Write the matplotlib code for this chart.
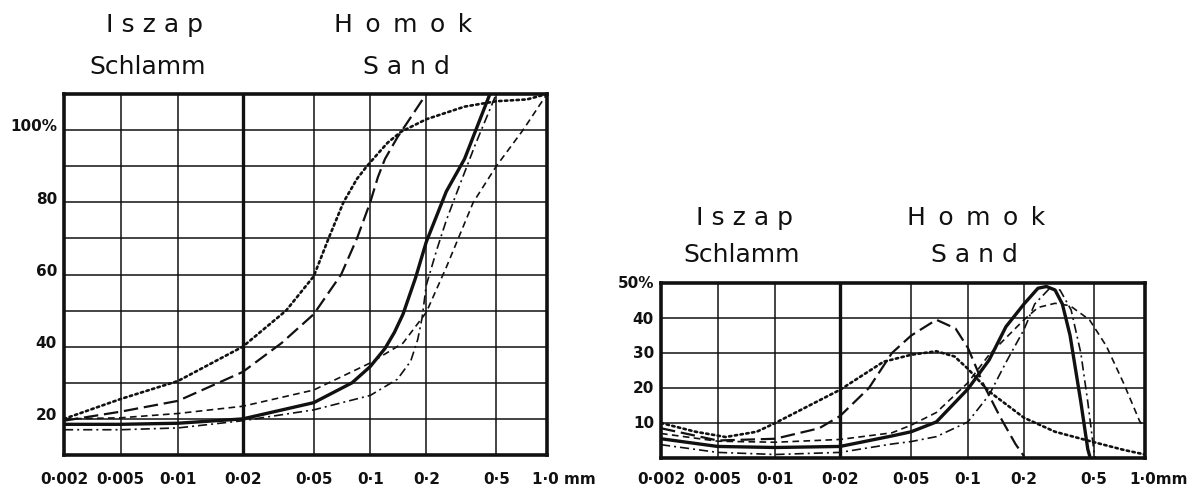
"""Grain size curves (Iszap / Homok): cumulative and frequency panels."""

import matplotlib
matplotlib.use("Agg")
import matplotlib.pyplot as plt
import numpy as np

# grain size classes in mm, as printed under both panels
size_ticks = [0.002, 0.005, 0.01, 0.02, 0.05, 0.1, 0.2, 0.5, 1.0]
size_labels = ["0·002", "0·005", "0·01", "0·02", "0·05", "0·1", "0·2", "0·5", "1·0"]

# cumulative panel (left), percent
cum_ticks = [20, 40, 60, 80, 100]
cum_labels = ["20", "40", "60", "80", "100%"]

cum_dot_x = [0.002, 0.005, 0.01, 0.02, 0.035, 0.05, 0.06, 0.072, 0.085, 0.096, 0.11, 0.124, 0.146, 0.2, 0.33, 0.5, 0.76, 1.0]
cum_dot_y = [20, 25.5, 30.5, 40, 50, 59.5, 70, 80, 86.5, 90, 93.5, 96.5, 99.5, 103, 106.5, 108, 108.5, 110]

cum_long_x = [0.002, 0.005, 0.01, 0.02, 0.033, 0.05, 0.07, 0.085, 0.1, 0.11, 0.12, 0.14, 0.165, 0.2]
cum_long_y = [19.5, 22, 25, 33, 41, 49, 60, 70, 80, 87, 92, 98, 103.5, 110]

cum_solid_x = [0.002, 0.005, 0.01, 0.02, 0.05, 0.08, 0.1, 0.12, 0.135, 0.15, 0.175, 0.2, 0.26, 0.33, 0.46]
cum_solid_y = [18.5, 18.5, 18.8, 20, 24.5, 30, 34.5, 39.5, 44, 49, 59, 69, 83, 92, 110]

cum_short_x = [0.002, 0.005, 0.01, 0.02, 0.05, 0.1, 0.15, 0.2, 0.26, 0.37, 0.5, 0.72, 1.0]
cum_short_y = [20, 20.3, 21.5, 23.5, 28, 35.5, 41, 49.5, 62, 80, 90, 100, 110]

cum_dashdot_x = [0.002, 0.005, 0.01, 0.02, 0.05, 0.1, 0.14, 0.165, 0.18, 0.19, 0.2, 0.23, 0.26, 0.3, 0.38, 0.5]
cum_dashdot_y = [17, 17, 17.5, 19.5, 22.5, 26.5, 31, 36, 42, 48, 57, 67, 75, 83, 96, 110]

# frequency panel (right), percent
freq_ticks = [10, 20, 30, 40, 50]
freq_labels = ["10", "20", "30", "40", "50%"]

freq_dot_x = [0.002, 0.0035, 0.0055, 0.008, 0.01, 0.02, 0.035, 0.05, 0.068, 0.085, 0.1, 0.13, 0.2, 0.3, 0.5, 0.75, 1.0]
freq_dot_y = [10, 7.5, 6, 7.5, 10, 19.5, 27.5, 29.5, 30.5, 29, 25.5, 19, 11.5, 7.5, 4.5, 2.3, 1]

freq_long_x = [0.002, 0.005, 0.01, 0.016, 0.02, 0.029, 0.039, 0.05, 0.068, 0.086, 0.1, 0.12, 0.148, 0.18, 0.2]
freq_long_y = [8.5, 5, 5.5, 8.5, 12, 20, 30, 35, 39.5, 37, 31.5, 21.5, 12, 4, 0.5]

freq_solid_x = [0.002, 0.005, 0.01, 0.02, 0.039, 0.05, 0.068, 0.1, 0.13, 0.16, 0.2, 0.24, 0.268, 0.3, 0.33, 0.365, 0.42, 0.46, 0.475]
freq_solid_y = [5.5, 3.3, 3, 3.3, 6.3, 7.5, 10.3, 19.7, 28, 37.5, 44, 48.5, 49, 48, 44, 35, 16, 2.5, 0]

freq_short_x = [0.002, 0.005, 0.01, 0.02, 0.039, 0.05, 0.068, 0.1, 0.13, 0.2, 0.24, 0.3, 0.365, 0.47, 0.59, 0.745, 0.93, 1.0]
freq_short_y = [7, 4.8, 4.5, 5.3, 7.2, 9.4, 13, 21.5, 29.5, 39.5, 43, 44.2, 43.5, 39.5, 32, 21.5, 10.5, 8.5]

freq_dashdot_x = [0.002, 0.005, 0.01, 0.02, 0.039, 0.05, 0.068, 0.1, 0.13, 0.16, 0.2, 0.23, 0.28, 0.32, 0.37, 0.42, 0.46, 0.5, 0.51]
freq_dashdot_y = [3.8, 1.6, 1, 1.6, 4, 4.7, 6.1, 10.3, 18, 27.3, 36.7, 44, 48.5, 48, 42.3, 30, 16, 1.5, 0]

# the printed size axis is only roughly logarithmic: gridline positions as
# fractions of the frame width, measured off the print
_LX = np.log10(size_ticks)
_FR = np.array([0.0, 0.117, 0.236, 0.37, 0.517, 0.634, 0.75, 0.895, 1.0])
_LX = np.concatenate([[_LX[0] - 1], _LX, [_LX[-1] + 1]])
_FR = np.concatenate([[_FR[0] - 0.3], _FR, [_FR[-1] + 0.35]])


def _fwd(x):
    return np.interp(np.log10(np.clip(x, 1e-9, None)), _LX, _FR)


def _inv(f):
    return 10 ** np.interp(f, _FR, _LX)


W, H = 1190, 489
ink = "#111111"
plt.rcParams["font.family"] = ["DejaVu Sans"]

fig = plt.figure(figsize=(W / 100, H / 100), dpi=100)
fig.patch.set_facecolor("white")


def px(x, y):
    return x / W, 1 - y / H


styles = {
    "dot": dict(ls=(0, (0.9, 1.3)), lw=1.9, dash_capstyle="round"),
    "long": dict(ls=(0, (6.5, 2.6)), lw=1.6),
    "solid": dict(ls="-", lw=2.4),
    "short": dict(ls=(0, (4, 2.6)), lw=1.2),
    "dashdot": dict(ls=(0, (5.5, 2.4, 1.2, 2.4)), lw=1.2),
}


def setup(ax, ylim, ystep, yticks, ylabels, ylab_dy, xlab_dy, mm_sep):
    ax.set_xscale("function", functions=(_fwd, _inv))
    ax.set_xlim(size_ticks[0], size_ticks[-1])
    ax.set_ylim(*ylim)
    ax.set_xticks(size_ticks)
    ax.set_yticks(np.arange(ylim[0], ylim[1] + 0.1, ystep))
    ax.set_xticklabels([])
    ax.set_yticklabels([])
    ax.tick_params(length=0)
    ax.grid(True, color=ink, lw=1.1)
    ax.axvline(0.02, color=ink, lw=2.4)
    for s in ax.spines.values():
        s.set_linewidth(2.6)
        s.set_color(ink)
    for v, lab in zip(yticks, ylabels):
        ax.annotate(lab, xy=(0, v), xycoords=ax.get_yaxis_transform(),
                    xytext=(-5, ylab_dy), textcoords="offset points",
                    ha="right", va="center", fontsize=11, fontweight="bold", color=ink)
    for v, lab in zip(size_ticks[:-1], size_labels[:-1]):
        ax.annotate(lab, xy=(v, 0), xycoords=ax.get_xaxis_transform(),
                    xytext=(0, xlab_dy), textcoords="offset points",
                    ha="center", va="center", fontsize=11, fontweight="bold", color=ink)
    ax.annotate(size_labels[-1] + mm_sep + "mm", xy=(size_ticks[-1], 0),
                xycoords=ax.get_xaxis_transform(), xytext=(-11, xlab_dy),
                textcoords="offset points", ha="left", va="center",
                fontsize=11, fontweight="bold", color=ink)


# ---- left: cumulative curves
ax1 = fig.add_axes([64 / W, 33 / H, 483 / W, 361 / H])
setup(ax1, (10, 110), 10, cum_ticks, cum_labels, 3, -17, " ")
ax1.plot(cum_dot_x, cum_dot_y, color=ink, **styles["dot"])
ax1.plot(cum_long_x, cum_long_y, color=ink, **styles["long"])
ax1.plot(cum_solid_x, cum_solid_y, color=ink, **styles["solid"])
ax1.plot(cum_short_x, cum_short_y, color=ink, **styles["short"])
ax1.plot(cum_dashdot_x, cum_dashdot_y, color=ink, **styles["dashdot"])

# ---- right: frequency curves
ax2 = fig.add_axes([661 / W, 30 / H, 484 / W, 175 / H])
setup(ax2, (0, 50), 10, freq_ticks, freq_labels, 0, -15, "")
ax2.plot(freq_dot_x, freq_dot_y, color=ink, **styles["dot"])
ax2.plot(freq_long_x, freq_long_y, color=ink, **styles["long"])
ax2.plot(freq_solid_x, freq_solid_y, color=ink, **styles["solid"])
ax2.plot(freq_short_x, freq_short_y, color=ink, **styles["short"])
ax2.plot(freq_dashdot_x, freq_dashdot_y, color=ink, **styles["dashdot"])

# ---- headings above each panel
heads = [
    ("I s z a p", 155, 25), ("Schlamm", 148, 67),
    ("H\u2002o\u2002m\u2002o\u2002k", 403, 25), ("S a n d", 406, 67),
    ("I s z a p", 745, 218), ("Schlamm", 742, 255),
    ("H\u2002o\u2002m\u2002o\u2002k", 976, 218), ("S a n d", 974, 255),
]
for txt, x, y in heads:
    fig.text(*px(x, y), txt, ha="center", va="center", fontsize=18, color=ink)

fig.savefig("out.png", dpi=100, facecolor="white")
